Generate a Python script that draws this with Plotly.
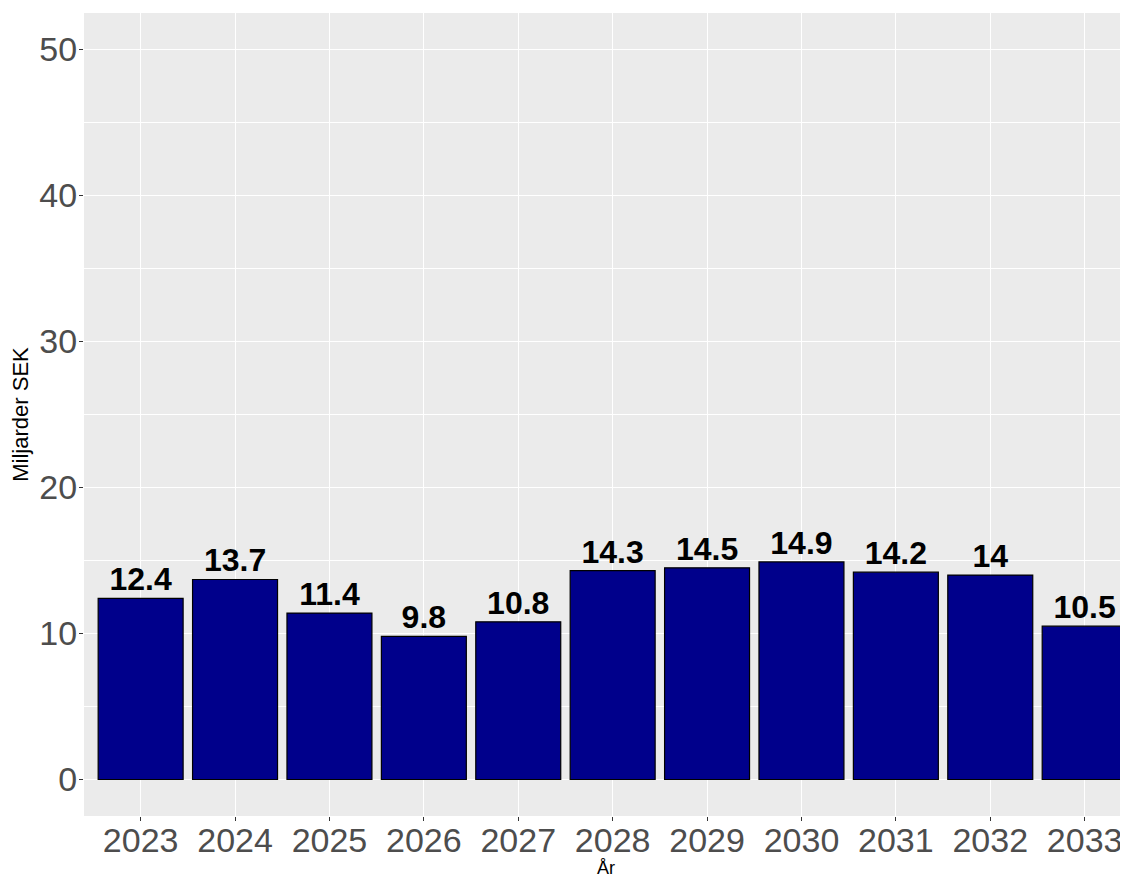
import plotly.graph_objects as go

years = ["2023", "2024", "2025", "2026", "2027", "2028", "2029", "2030", "2031", "2032", "2033"]
values = [12.4, 13.7, 11.4, 9.8, 10.8, 14.3, 14.5, 14.9, 14.2, 14.0, 10.5]
labels = ["12.4", "13.7", "11.4", "9.8", "10.8", "14.3", "14.5", "14.9", "14.2", "14", "10.5"]
y_ticks = [0, 10, 20, 30, 40, 50]

font_family = "Liberation Sans, Arial, Helvetica, sans-serif"

fig = go.Figure()
fig.add_trace(go.Bar(
    x=years, y=values, width=0.9,
    marker=dict(color="#00008B", line=dict(color="black", width=1.2)),
    hoverinfo="x+y",
))
fig.add_trace(go.Scatter(
    x=years, y=values, mode="text", text=labels,
    textposition="top center", cliponaxis=False,
    textfont=dict(family=font_family, size=32, color="black", weight="bold"),
    hoverinfo="skip",
))

fig.update_layout(
    width=1120, height=870,
    margin=dict(l=76, r=0, t=5, b=62, autoexpand=False),
    paper_bgcolor="white", plot_bgcolor="#EBEBEB",
    showlegend=False,
    font=dict(family=font_family),
    bargap=0.1,
)
fig.update_xaxes(
    type="category", range=[-0.6, 10.459],
    showgrid=True, gridcolor="white", gridwidth=1.4,
    ticks="outside", ticklen=4, tickcolor="#333333", tickwidth=1.1,
    tickfont=dict(size=34, color="#4D4D4D", family=font_family),
    ticklabelstandoff=-10,
    title=dict(text="År", font=dict(size=18, color="black", family=font_family), standoff=2),
    zeroline=False, showline=False, automargin=False,
)
fig.update_yaxes(
    range=[-2.5, 52.5], tickvals=y_ticks, ticktext=[str(t) for t in y_ticks],
    showgrid=True, gridcolor="white", gridwidth=1.4,
    minor=dict(tickvals=[5, 15, 25, 35, 45], showgrid=True, gridcolor="white", gridwidth=0.6),
    ticks="outside", ticklen=4, tickcolor="#333333", tickwidth=1.1,
    tickfont=dict(size=34, color="#4D4D4D", family=font_family),
    ticklabelstandoff=-5,
    title=dict(text="Miljarder SEK", font=dict(size=22, color="black", family=font_family), standoff=6),
    zeroline=False, showline=False, automargin=False,
)

fig.write_html("out.html")
